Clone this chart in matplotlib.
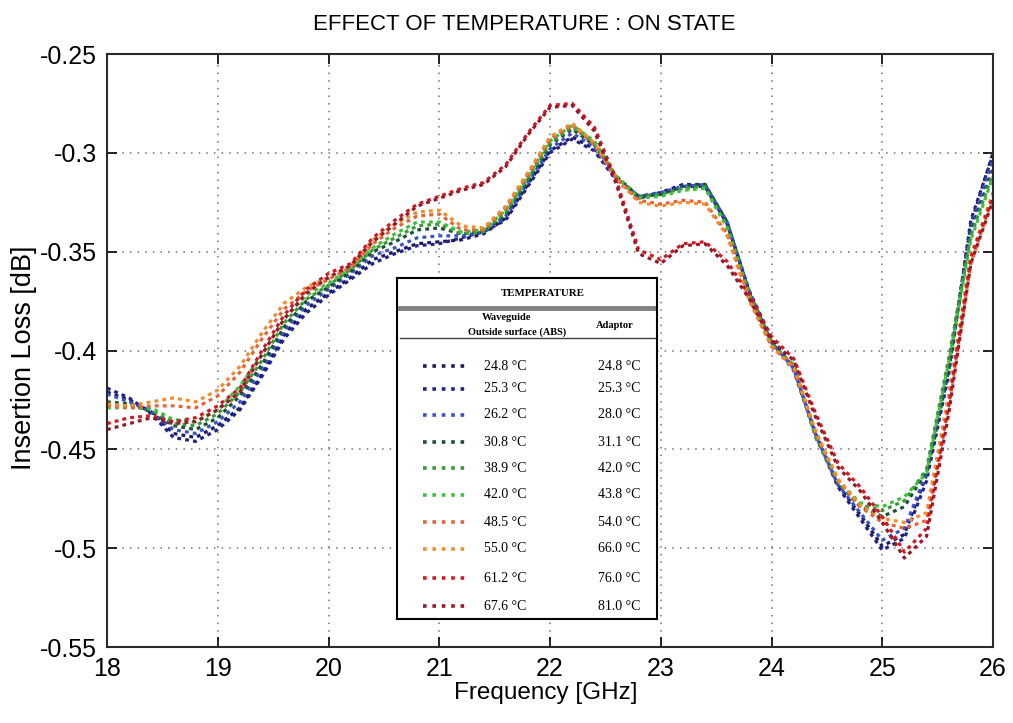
import matplotlib
matplotlib.use("Agg")
import matplotlib.pyplot as plt
from matplotlib.lines import Line2D
from matplotlib.ticker import FixedLocator, FuncFormatter

# ---------------- data ----------------
freq = [18.0, 18.2, 18.4, 18.6, 18.8, 19.0, 19.2, 19.4, 19.6, 19.8,
        20.0, 20.2, 20.4, 20.6, 20.8, 21.0, 21.2, 21.4, 21.6, 21.8,
        22.0, 22.2, 22.4, 22.6, 22.8, 23.0, 23.2, 23.4, 23.6, 23.8,
        24.0, 24.2, 24.4, 24.6, 24.8, 25.0, 25.2, 25.4, 25.6, 25.8, 26.0]

wg_temps = ["24.8 °C", "25.3 °C", "26.2 °C", "30.8 °C", "38.9 °C",
            "42.0 °C", "48.5 °C", "55.0 °C", "61.2 °C", "67.6 °C"]
ad_temps = ["24.8 °C", "25.3 °C", "28.0 °C", "31.1 °C", "42.0 °C",
            "43.8 °C", "54.0 °C", "66.0 °C", "76.0 °C", "81.0 °C"]

s248 = [-0.421, -0.425, -0.431, -0.442, -0.444, -0.438, -0.429, -0.412, -0.392, -0.379,
        -0.371, -0.363, -0.354, -0.350, -0.346, -0.345, -0.344, -0.341, -0.333, -0.316,
        -0.299, -0.292, -0.298, -0.313, -0.322, -0.321, -0.317, -0.317, -0.336, -0.370,
        -0.394, -0.409, -0.442, -0.468, -0.483, -0.499, -0.493, -0.463, -0.410, -0.336, -0.300]
s253 = [-0.419, -0.424, -0.432, -0.444, -0.446, -0.440, -0.430, -0.413, -0.394, -0.381,
        -0.372, -0.364, -0.356, -0.351, -0.347, -0.346, -0.343, -0.340, -0.334, -0.317,
        -0.300, -0.293, -0.299, -0.314, -0.323, -0.320, -0.316, -0.316, -0.335, -0.371,
        -0.396, -0.410, -0.443, -0.469, -0.485, -0.501, -0.495, -0.466, -0.412, -0.334, -0.301]
s262 = [-0.422, -0.426, -0.431, -0.440, -0.442, -0.436, -0.426, -0.409, -0.390, -0.377,
        -0.369, -0.361, -0.352, -0.348, -0.343, -0.342, -0.342, -0.340, -0.332, -0.315,
        -0.298, -0.290, -0.297, -0.313, -0.322, -0.320, -0.317, -0.316, -0.335, -0.370,
        -0.396, -0.409, -0.443, -0.468, -0.482, -0.496, -0.490, -0.462, -0.408, -0.338, -0.303]
s308 = [-0.426, -0.427, -0.431, -0.438, -0.440, -0.434, -0.423, -0.407, -0.388, -0.375,
        -0.368, -0.360, -0.350, -0.345, -0.339, -0.338, -0.341, -0.340, -0.331, -0.314,
        -0.296, -0.288, -0.296, -0.312, -0.322, -0.321, -0.317, -0.316, -0.336, -0.371,
        -0.396, -0.408, -0.444, -0.467, -0.479, -0.484, -0.479, -0.461, -0.406, -0.340, -0.308]
s389 = [-0.428, -0.428, -0.430, -0.437, -0.438, -0.432, -0.421, -0.405, -0.386, -0.374,
        -0.367, -0.359, -0.349, -0.343, -0.337, -0.336, -0.341, -0.340, -0.330, -0.313,
        -0.295, -0.287, -0.295, -0.312, -0.322, -0.321, -0.318, -0.317, -0.337, -0.372,
        -0.397, -0.408, -0.444, -0.467, -0.478, -0.481, -0.476, -0.460, -0.404, -0.342, -0.310]
s420 = [-0.429, -0.429, -0.429, -0.435, -0.436, -0.430, -0.418, -0.402, -0.384, -0.372,
        -0.366, -0.358, -0.348, -0.341, -0.335, -0.335, -0.340, -0.339, -0.329, -0.312,
        -0.294, -0.286, -0.294, -0.312, -0.323, -0.322, -0.319, -0.318, -0.338, -0.372,
        -0.397, -0.407, -0.443, -0.466, -0.477, -0.479, -0.474, -0.462, -0.406, -0.344, -0.312]
s485 = [-0.428, -0.429, -0.428, -0.428, -0.429, -0.423, -0.411, -0.394, -0.379, -0.370,
        -0.364, -0.358, -0.346, -0.338, -0.332, -0.331, -0.339, -0.339, -0.328, -0.311,
        -0.293, -0.286, -0.296, -0.313, -0.324, -0.326, -0.324, -0.325, -0.341, -0.374,
        -0.398, -0.408, -0.442, -0.466, -0.479, -0.487, -0.490, -0.486, -0.428, -0.356, -0.322]
s550 = [-0.427, -0.428, -0.426, -0.424, -0.426, -0.420, -0.408, -0.391, -0.376, -0.368,
        -0.363, -0.357, -0.344, -0.336, -0.330, -0.329, -0.337, -0.338, -0.327, -0.310,
        -0.292, -0.285, -0.295, -0.313, -0.325, -0.327, -0.325, -0.326, -0.342, -0.375,
        -0.398, -0.409, -0.441, -0.465, -0.478, -0.485, -0.487, -0.482, -0.422, -0.352, -0.320]
s612 = [-0.437, -0.434, -0.433, -0.436, -0.434, -0.428, -0.419, -0.400, -0.382, -0.369,
        -0.361, -0.356, -0.343, -0.334, -0.326, -0.322, -0.318, -0.315, -0.306, -0.290,
        -0.276, -0.275, -0.287, -0.314, -0.349, -0.354, -0.346, -0.345, -0.355, -0.372,
        -0.393, -0.404, -0.432, -0.457, -0.469, -0.484, -0.502, -0.490, -0.428, -0.353, -0.322]
s676 = [-0.440, -0.437, -0.434, -0.437, -0.436, -0.430, -0.421, -0.402, -0.384, -0.371,
        -0.363, -0.357, -0.345, -0.336, -0.327, -0.323, -0.319, -0.316, -0.307, -0.291,
        -0.277, -0.276, -0.289, -0.316, -0.351, -0.356, -0.347, -0.346, -0.357, -0.374,
        -0.395, -0.405, -0.434, -0.459, -0.471, -0.487, -0.505, -0.494, -0.432, -0.356, -0.324]

series = [s248, s253, s262, s308, s389, s420, s485, s550, s612, s676]
colors = ["#1c1c5e", "#22228e", "#3a52c8", "#1e4d38", "#38983a",
          "#3ec03e", "#e4643a", "#f28c2c", "#d21a26", "#961a28"]

xticks = [18, 19, 20, 21, 22, 23, 24, 25, 26]
yticks = [-0.55, -0.5, -0.45, -0.4, -0.35, -0.3, -0.25]

# ---------------- figure ----------------
W, H = 1013, 723
fig = plt.figure(figsize=(W / 100, H / 100), dpi=100)
fig.patch.set_facecolor("white")
sans = "Liberation Sans"

L, R, T, B = 107, 993, 54, 647
ax = fig.add_axes([L / W, 1 - B / H, (R - L) / W, (B - T) / H])

for vals, c in zip(series, colors):
    ax.plot(freq, vals, color=c, lw=2.3, linestyle=(0, (1.2, 1.3)),
            dash_capstyle="butt")

ax.set_xlim(18, 26)
ax.set_ylim(-0.55, -0.25)
ax.xaxis.set_major_locator(FixedLocator(xticks))
ax.yaxis.set_major_locator(FixedLocator(yticks))
ax.xaxis.set_major_formatter(FuncFormatter(lambda v, p: f"{v:g}"))
ax.yaxis.set_major_formatter(FuncFormatter(lambda v, p: f"{v:g}"))
ax.grid(True, color="#707070", linestyle=(0, (1, 4)), lw=1.1)
ax.tick_params(direction="in", length=7, width=1.2, top=True, right=True,
               labelsize=18)
ax.tick_params(axis="y", pad=7)
ax.tick_params(axis="x", pad=7)
for lab in ax.get_xticklabels() + ax.get_yticklabels():
    lab.set_fontfamily(sans)
for sp in ax.spines.values():
    sp.set_linewidth(1.5)
    sp.set_color("#2a2a2a")

fig.text(524 / W, 1 - 24 / H, "EFFECT OF TEMPERATURE : ON STATE", fontsize=16,
         family=sans, ha="center", va="center")
fig.text(546 / W, 1 - 693 / H, "Frequency [GHz]", fontsize=17.5,
         family=sans, ha="center", va="center")
fig.text(24 / W, 1 - 358 / H, "Insertion Loss [dB]", fontsize=19.5,
         family=sans, ha="center", va="center", rotation=90)

# ---------------- legend table ----------------
bx0, bx1, by0, by1 = 397, 657, 278, 619
lax = fig.add_axes([bx0 / W, 1 - by1 / H, (bx1 - bx0) / W, (by1 - by0) / H])
lax.set_xlim(bx0, bx1)
lax.set_ylim(by1, by0)
lax.set_xticks([])
lax.set_yticks([])
lax.set_facecolor("white")
for sp in lax.spines.values():
    sp.set_linewidth(1.5)
    sp.set_color("black")

serif = "Liberation Serif"
lax.text(543, 293, "TEMPERATURE", ha="center", va="center", fontsize=7.8,
         family=serif, fontweight="bold")
lax.plot([400, 655], [308, 308], color="#808080", lw=3.5)
lax.text(507, 318, "Waveguide", ha="center", va="center", fontsize=7.6,
         family=serif, fontweight="bold")
lax.text(517, 332, "Outside surface (ABS)", ha="center", va="center", fontsize=7.4,
         family=serif, fontweight="bold")
lax.text(615, 325, "Adaptor", ha="center", va="center", fontsize=7.6,
         family=serif, fontweight="bold")
lax.plot([400, 655], [338, 338], color="#404040", lw=1.0)

row_y = [366, 389, 415, 442, 468, 495, 522, 549, 578, 606]
for yy, c, wt, at in zip(row_y, colors, wg_temps, ad_temps):
    lax.add_line(Line2D([423, 468], [yy, yy], color=c, lw=2.6,
                        linestyle=(0, (1, 1.6))))
    lax.text(484, yy, wt, ha="left", va="center", fontsize=10, family=serif)
    lax.text(598, yy, at, ha="left", va="center", fontsize=10, family=serif)

fig.savefig("out.png", dpi=100, facecolor="white")
